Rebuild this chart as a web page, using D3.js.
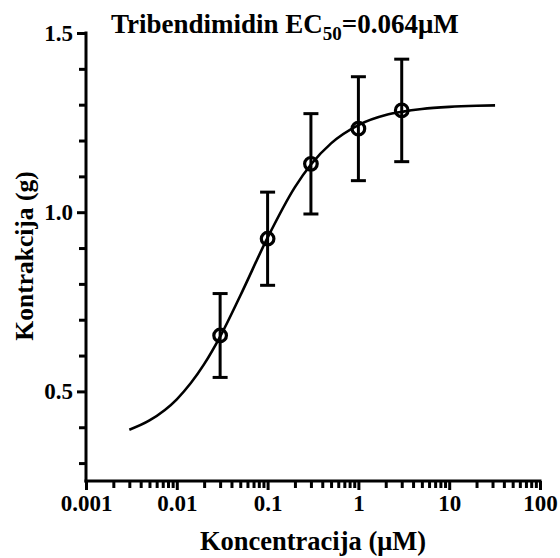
<!DOCTYPE html>
<html>
<head>
<meta charset="utf-8">
<script src="https://cdn.jsdelivr.net/npm/d3@7"></script>
<style>
  html, body { margin: 0; padding: 0; background: #fff; }
  svg { display: block; }
  text { font-family: "Liberation Serif", "DejaVu Serif", serif; font-weight: bold; fill: #000; }
</style>
</head>
<body>
<svg id="chart" width="560" height="558"></svg>
<script>
// ---- data ----
const concentrations = [0.03, 0.1, 0.3, 1, 3];           // µM
const meanValues     = [0.656, 0.926, 1.135, 1.233, 1.284]; // g
const errorValues    = [0.117, 0.13, 0.14, 0.145, 0.143];  // SEM
const curveX = [0.003, 0.005, 0.01, 0.02, 0.03, 0.05, 0.1, 0.2, 0.3, 0.5, 1, 2, 3, 5, 10, 20, 32];
const curveY = [0.393, 0.419, 0.478, 0.576, 0.653, 0.767, 0.929, 1.07, 1.133, 1.192, 1.243, 1.271, 1.28, 1.288, 1.294, 1.297, 1.298];
const xTickValues = [0.001, 0.01, 0.1, 1, 10, 100];
const xTickLabels = ["0.001", "0.01", "0.1", "1", "10", "100"];
const yTickValues = [0.5, 1.0, 1.5];
const yTickLabels = ["0.5", "1.0", "1.5"];
const yMinorTicks = [0.3, 0.4, 0.6, 0.7, 0.8, 0.9, 1.1, 1.2, 1.3, 1.4];
const titleMain = "Tribendimidin EC";
const titleSub = "50";
const titleTail = "=0.064μM";
const xLabel = "Koncentracija (μM)";
const yLabel = "Kontrakcija (g)";

// ---- scales ----
const svg = d3.select("#chart");
const x = d3.scaleLog().domain([0.001, 100]).range([86, 540]);
const y = d3.scaleLinear().domain([0.25, 1.5]).range([481, 33]);

const lw = 3;
const tickFont = "23px";

// x minor ticks
const xMinor = [];
for (let e = -3; e < 2; e++) for (let m = 2; m <= 9; m++) xMinor.push(m * Math.pow(10, e));

// ---- x axis ----
const xAxisG = svg.append("g").attr("transform", `translate(0,${y(0.25)})`);
xAxisG.call(d3.axisBottom(x).tickValues(xMinor).tickSize(7).tickFormat(""))
  .call(g => g.select(".domain").remove());
xAxisG.append("g").call(d3.axisBottom(x).tickValues(xTickValues).tickSize(9).tickPadding(5)
    .tickFormat((d, i) => xTickLabels[i]))
  .call(g => g.select(".domain").remove())
  .call(g => g.selectAll("text").style("font-size", tickFont).attr("fill", "#000")
    .style("font-family", "'Liberation Serif', serif").style("font-weight", "bold"));
xAxisG.selectAll("line").attr("stroke", "#000").attr("stroke-width", lw);
xAxisG.append("line").attr("x1", x(0.001) - lw / 2).attr("x2", x(100) + lw / 2)
  .attr("y1", 0).attr("y2", 0).attr("stroke", "#000").attr("stroke-width", lw);

// ---- y axis ----
const yAxisG = svg.append("g").attr("transform", `translate(${x(0.001)},0)`);
yAxisG.call(d3.axisLeft(y).tickValues(yMinorTicks).tickSize(7).tickFormat(""))
  .call(g => g.select(".domain").remove());
yAxisG.append("g").call(d3.axisLeft(y).tickValues(yTickValues).tickSize(9).tickPadding(4)
    .tickFormat((d, i) => yTickLabels[i]))
  .call(g => g.select(".domain").remove())
  .call(g => g.selectAll("text").style("font-size", tickFont).attr("fill", "#000")
    .style("font-family", "'Liberation Serif', serif").style("font-weight", "bold"));
yAxisG.selectAll("line").attr("stroke", "#000").attr("stroke-width", lw);
yAxisG.append("line").attr("x1", 0).attr("x2", 0)
  .attr("y1", y(1.5) - lw / 2).attr("y2", y(0.25) + lw / 2).attr("stroke", "#000").attr("stroke-width", lw);

// ---- curve ----
const curveData = curveX.map((d, i) => [d, curveY[i]]);
svg.append("path").datum(curveData)
  .attr("fill", "none").attr("stroke", "#000").attr("stroke-width", 2.6)
  .attr("d", d3.line().x(d => x(d[0])).y(d => y(d[1])).curve(d3.curveMonotoneX));

// ---- error bars ----
const pts = concentrations.map((c, i) => ({ c, m: meanValues[i], e: errorValues[i] }));
const eb = svg.append("g").attr("stroke", "#000").attr("stroke-width", lw);
eb.selectAll(".v").data(pts).join("line")
  .attr("x1", d => x(d.c)).attr("x2", d => x(d.c))
  .attr("y1", d => y(d.m + d.e)).attr("y2", d => y(d.m - d.e));
eb.selectAll(".t").data(pts).join("line")
  .attr("x1", d => x(d.c) - 7.5).attr("x2", d => x(d.c) + 7.5)
  .attr("y1", d => y(d.m + d.e)).attr("y2", d => y(d.m + d.e));
eb.selectAll(".b").data(pts).join("line")
  .attr("x1", d => x(d.c) - 7.5).attr("x2", d => x(d.c) + 7.5)
  .attr("y1", d => y(d.m - d.e)).attr("y2", d => y(d.m - d.e));

// ---- points ----
svg.append("g").selectAll("circle").data(pts).join("circle")
  .attr("cx", d => x(d.c)).attr("cy", d => y(d.m)).attr("r", 6.3)
  .attr("fill", "none").attr("stroke", "#000").attr("stroke-width", 3.2);

// ---- title ----
const title = svg.append("text").attr("x", 111).attr("y", 33).style("font-size", "27px");
title.append("tspan").text(titleMain);
title.append("tspan").attr("dy", 7).style("font-size", "19px").text(titleSub);
title.append("tspan").attr("dy", -7).text(titleTail);

// ---- axis labels ----
svg.append("text").attr("x", 313).attr("y", 550).attr("text-anchor", "middle")
  .style("font-size", "26.5px").text(xLabel);
svg.append("text").attr("transform", "translate(33,256) rotate(-90)").attr("text-anchor", "middle")
  .style("font-size", "25.5px").text(yLabel);
</script>
</body>
</html>
